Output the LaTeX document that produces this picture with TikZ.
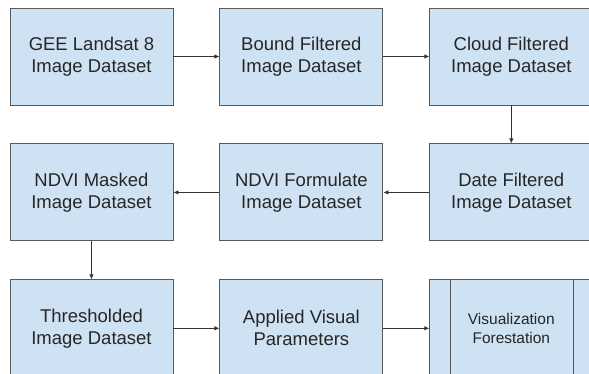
\documentclass[tikz,border=0pt]{standalone}
\usepackage{fontspec}
\setmainfont{Liberation Sans}
\usetikzlibrary{positioning,arrows.meta}
\definecolor{boxfill}{HTML}{CFE2F3}
\definecolor{boxline}{HTML}{595959}
\begin{document}
\begin{tikzpicture}[node distance=38pt and 46pt,
		box/.style={rectangle, draw=boxline, line width=0.9pt, fill=boxfill, minimum width=163pt, minimum height=97pt, align=center, text=black!85, font=\fontsize{18.5}{22}\selectfont},
		arr/.style={-{Latex[length=5pt,width=4.5pt]}, line width=0.8pt, draw=black!80}]
		\useasboundingbox (0,0) rectangle (589pt,-374pt);
	
		\node[box] (gee) at (91.5pt,-56.5pt) {GEE Landsat 8\\Image Dataset};
		\node[box, right=of gee] (bound) {Bound Filtered\\Image Dataset};
		\node[box, right=of bound] (cloud) {Cloud Filtered\\Image Dataset};
		\node[box, below=of cloud] (date) {Date Filtered\\Image Dataset};
		\node[box, below=of bound] (ndvi) {NDVI Formulate\\Image Dataset};
		\node[box, below=of gee] (masked) {NDVI Masked\\Image Dataset};
		\node[box, below=of masked] (thresh) {Thresholded\\Image Dataset};
		\node[box, below=of ndvi] (visual) {Applied Visual\\Parameters};
		\node[box, below=of date, font=\fontsize{15.5}{18.5}\selectfont] (viz) {Visualization\\Forestation};
		\draw[boxline, line width=0.9pt] ([xshift=21pt]viz.north west) -- ([xshift=21pt]viz.south west) ([xshift=-20pt]viz.north east) -- ([xshift=-20pt]viz.south east);
	
		\draw[arr] (gee) -- (bound); \draw[arr] (bound) -- (cloud); \draw[arr] (cloud) -- (date);
		\draw[arr] (date) -- (ndvi); \draw[arr] (ndvi) -- (masked); \draw[arr] (masked) -- (thresh);
		\draw[arr] (thresh) -- (visual); \draw[arr] (visual) -- (viz);
	\end{tikzpicture}
\end{document}
